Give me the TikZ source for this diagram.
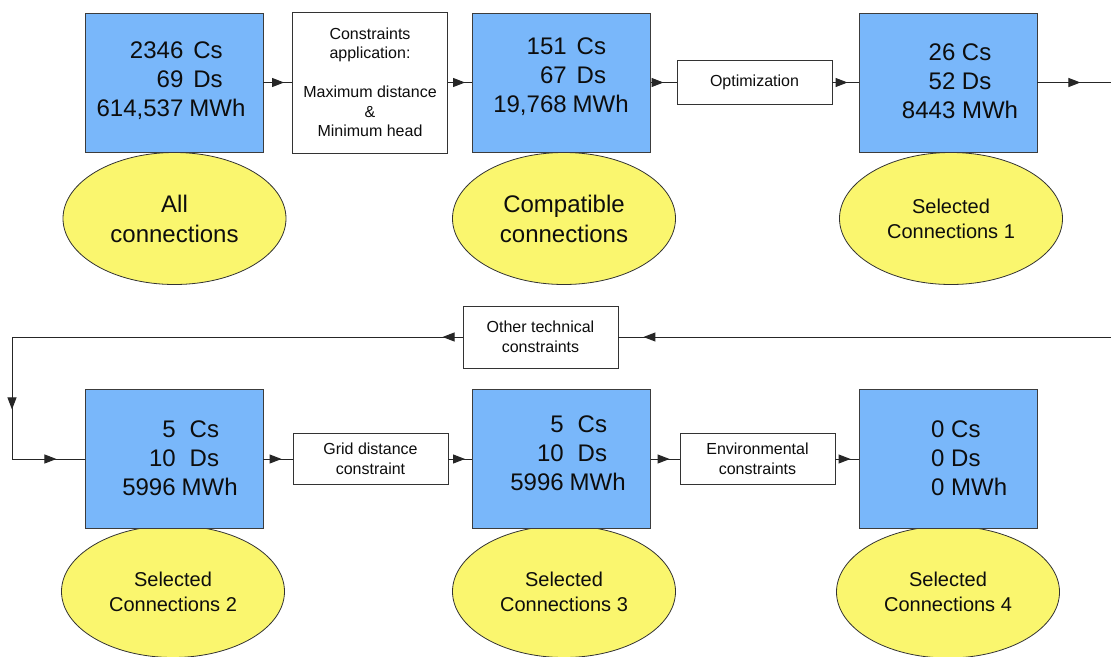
\documentclass[tikz,border=0pt]{standalone}
\usepackage{fontspec}
\setmainfont{Liberation Sans}
\usetikzlibrary{arrows.meta,shapes.geometric,decorations.markings}
\definecolor{boxblue}{RGB}{121,183,250}
\definecolor{boxedge}{RGB}{60,60,60}
\definecolor{tagyellow}{RGB}{250,246,110}
\tikzset{
  flowtip/.tip={Triangle[length=12pt,width=9pt]},
  bluebox/.style={rectangle, draw=boxedge, fill=boxblue, line width=0.9pt,
                  minimum width=178pt, minimum height=139pt, inner sep=0pt},
  bluetext/.style={inner sep=0pt, text=black!95, font=\fontsize{24}{29}\selectfont},
  tagellipse/.style={ellipse, draw=black!80, fill=tagyellow, line width=0.8pt,
                     minimum width=223pt, minimum height=132pt, inner sep=0pt,
                     align=center, text=black!95},
  bigtag/.style={tagellipse, font=\fontsize{24}{30}\selectfont},
  smalltag/.style={tagellipse, font=\fontsize{20}{25}\selectfont},
  stepbox/.style={rectangle, draw=black!80, fill=white, line width=0.9pt,
                  minimum width=155pt, inner sep=0pt, align=center, text=black!95,
                  font=\fontsize{16}{19.5}\selectfont},
  flow/.style={draw=black!85, line width=1pt},
  arrowat/.style={postaction={decorate},
                  decoration={markings, mark=at position #1 with {\arrow{flowtip}}}},
}

\begin{document}
\begin{tikzpicture}[x=1pt, y=-1pt]
\useasboundingbox (0,0) rectangle (1111,656);
% tags under the boxes
\node[bigtag]   (E1) at (174.5,218.5) {All\\connections};
\node[bigtag]   (E2) at (564,218.5)   {Compatible\\connections};
\node[smalltag] (E3) at (951,218.5)   {Selected\\Connections 1};
\node[smalltag] (E4) at (173,591.5)   {Selected\\Connections 2};
\node[smalltag] (E5) at (564,591.5)   {Selected\\Connections 3};
\node[smalltag] (E6) at (948,592)     {Selected\\Connections 4};
% counts
\node[bluebox] (B1) at (174,82.5)  {};
\node[bluebox] (B2) at (561.5,82.5) {};
\node[bluebox] (B3) at (948,82.5)  {};
\node[bluebox] (B4) at (174,459)   {};
\node[bluebox] (B5) at (561.5,459) {};
\node[bluebox] (B6) at (948,459)   {};
\node[bluetext] (T1) at (171,82) {\begin{tabular}{@{}r@{\hspace{6pt}}l@{}}2346&\kern4pt Cs\\69&\kern4pt Ds\\614,537&MWh\end{tabular}};
\node[bluetext] (T2) at (561,78) {\begin{tabular}{@{}r@{\hspace{6pt}}l@{}}151&\kern4pt Cs\\67&\kern4pt Ds\\19,768&MWh\end{tabular}};
\node[bluetext, align=center] (T3) at (960,81) {26 Cs\\52 Ds\\8443 MWh};
\node[bluetext] (T4) at (180,461) {\begin{tabular}{@{}r@{\hspace{6pt}}l@{}}5&\kern8pt Cs\\10&\kern8pt Ds\\5996&MWh\end{tabular}};
\node[bluetext] (T5) at (568,456) {\begin{tabular}{@{}r@{\hspace{6pt}}l@{}}5&\kern8pt Cs\\10&\kern8pt Ds\\5996&MWh\end{tabular}};
\node[bluetext, align=left, anchor=west] (T6) at (931,458) {0 Cs\\0 Ds\\0 MWh};
% steps
\node[stepbox, minimum height=141pt] (W1) at (370,82.5) {Constraints\\application:\\[19.5pt]Maximum distance\\\&\\Minimum head};
\node[stepbox, minimum height=44pt]  (W2) at (754.5,82.5) {Optimization};
\node[stepbox, minimum height=62pt]  (W3) at (540.5,337) {Other technical\\constraints};
\node[stepbox, minimum height=51pt]  (W4) at (370.5,459) {Grid distance\\constraint};
\node[stepbox, minimum height=51pt]  (W5) at (757.5,459) {Environmental\\constraints};
\coordinate (eR1) at (1111,82.5);
\coordinate (eR2) at (1111,337);
\coordinate (cL1) at (12,337);
\coordinate (cL2) at (12,459);
% flow
\draw[flow, arrowat=-8pt]  (B1) -- (W1);
\draw[flow, arrowat=-7pt]  (W1) -- (B2);
\draw[flow, arrowat=-13pt] (B2) -- (W2);
\draw[flow, arrowat=-11pt] (W2) -- (B3);
\draw[flow, arrowat=43pt]  (B3) -- (eR1);
\draw[flow, arrowat=-25pt] (eR2) -- (W3);
\draw[flow, line join=miter, postaction={decorate},
      decoration={markings, mark=at position 20pt with {\arrow{flowtip}},
                  mark=at position 523pt with {\arrow{flowtip}},
                  mark=at position 617pt with {\arrow{flowtip}}}]
  (W3) -- (cL1) -- (cL2) -- (B4);
\draw[flow, arrowat=-11pt] (B4) -- (W4);
\draw[flow, arrowat=-7pt]  (W4) -- (B5);
\draw[flow, arrowat=-10pt] (B5) -- (W5);
\draw[flow, arrowat=-8pt]  (W5) -- (B6);
\end{tikzpicture}
\end{document}
